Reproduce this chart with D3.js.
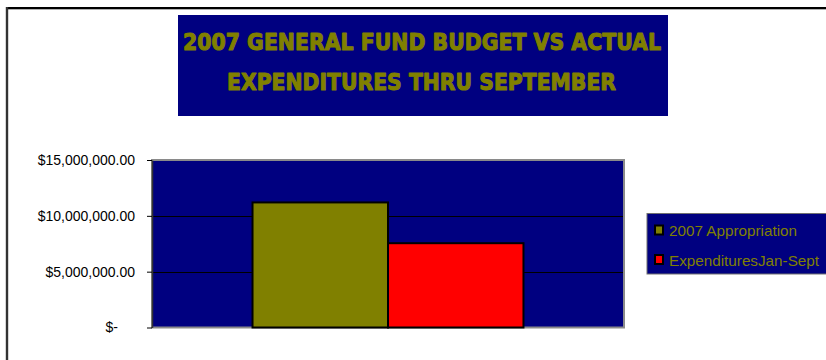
<!DOCTYPE html>
<html>
<head>
<meta charset="utf-8">
<script src="https://cdn.jsdelivr.net/npm/d3@7/dist/d3.min.js"></script>
<style>
  html, body { margin: 0; padding: 0; background: #ffffff; }
  svg { display: block; }
</style>
</head>
<body>
<script>
// Chart data
const categories = ["2007"];
const seriesNames = ["2007 Appropriation", "ExpendituresJan-Sept"];
const seriesValues = [11200000, 7550000];
const seriesColors = ["#808000", "#ff0000"];
const tickValues = [0, 5000000, 10000000, 15000000];
const tickLabels = ["$-", "$5,000,000.00", "$10,000,000.00", "$15,000,000.00"];
const titleLines = ["2007 GENERAL FUND BUDGET VS ACTUAL", "EXPENDITURES THRU SEPTEMBER"];

const W = 826, H = 360;
const plot = { left: 152, top: 160, right: 624, bottom: 327.5 };

const svg = d3.select("body").append("svg")
  .attr("width", W).attr("height", H);

// Frame lines along the top and left edges
svg.append("line").attr("x1", 7).attr("x2", W).attr("y1", 9.5).attr("y2", 9.5)
  .attr("stroke", "#b0b0b0").attr("stroke-width", 1);
svg.append("line").attr("x1", 6).attr("x2", W).attr("y1", 8).attr("y2", 8)
  .attr("stroke", "#000").attr("stroke-width", 2);
svg.append("line").attr("x1", 7).attr("x2", 7).attr("y1", 7).attr("y2", H)
  .attr("stroke", "#333").attr("stroke-width", 2.4);

// Title block
svg.append("rect").attr("x", 178).attr("y", 15).attr("width", 490).attr("height", 101)
  .attr("fill", "#000080");
const titleSpec = [
  { y: 49.5, x0: 183, x1: 661 },
  { y: 90, x0: 227, x1: 616 }
];
titleLines.forEach((t, i) => {
  svg.append("text")
    .attr("x", titleSpec[i].x0).attr("y", titleSpec[i].y)
    .attr("textLength", titleSpec[i].x1 - titleSpec[i].x0)
    .attr("lengthAdjust", "spacingAndGlyphs")
    .attr("font-family", "'DejaVu Sans', 'Liberation Sans', sans-serif")
    .attr("font-weight", "bold")
    .attr("font-size", 23)
    .attr("fill", "#808000")
    .attr("stroke", "#808000")
    .attr("stroke-width", 1.1)
    .attr("stroke-linejoin", "round")
    .text(t);
});

// Scales
const y = d3.scaleLinear().domain([0, 15000000]).range([plot.bottom, plot.top]);
const x0 = d3.scaleBand().domain(categories).range([plot.left, plot.right])
  .paddingInner(0).paddingOuter(0.371);
const x1 = d3.scaleBand().domain(seriesNames).range([0, x0.bandwidth()]).padding(0);

// Plot area background
svg.append("rect")
  .attr("x", plot.left).attr("y", plot.top)
  .attr("width", plot.right - plot.left).attr("height", plot.bottom - plot.top)
  .attr("fill", "#000080");

// Gridlines
svg.append("g").selectAll("line")
  .data(tickValues.filter(v => v > 0 && v < 15000000))
  .join("line")
  .attr("x1", plot.left).attr("x2", plot.right)
  .attr("y1", d => Math.round(y(d)) + 0.5).attr("y2", d => Math.round(y(d)) + 0.5)
  .attr("stroke", "#000").attr("stroke-width", 1);

// Plot area border
svg.append("rect")
  .attr("x", plot.left).attr("y", plot.top)
  .attr("width", plot.right - plot.left).attr("height", plot.bottom - plot.top)
  .attr("fill", "none").attr("stroke", "#8a8a8a").attr("stroke-width", 2);

// Bars
const group = svg.append("g").selectAll("g")
  .data(categories)
  .join("g")
  .attr("transform", d => `translate(${x0(d)},0)`);
group.selectAll("rect")
  .data(() => seriesNames.map((n, i) => ({ name: n, value: seriesValues[i], color: seriesColors[i] })))
  .join("rect")
  .attr("x", d => x1(d.name))
  .attr("y", d => y(d.value))
  .attr("width", x1.bandwidth())
  .attr("height", d => y(0) - y(d.value))
  .attr("fill", d => d.color)
  .attr("stroke", "#000")
  .attr("stroke-width", 2);

// Value axis
const yAxis = d3.axisLeft(y)
  .tickValues(tickValues)
  .tickFormat((d, i) => tickLabels[i])
  .tickSizeInner(5).tickSizeOuter(0).tickPadding(12);
const ax = svg.append("g").attr("transform", `translate(${plot.left},0)`).call(yAxis);
ax.attr("font-size", null).attr("font-family", null);
ax.select(".domain").attr("stroke", "#333").attr("stroke-width", 1.5);
ax.selectAll(".tick line").attr("stroke", "#000");
ax.selectAll(".tick text")
  .style("font-family", "'Liberation Sans', Arial, sans-serif")
  .style("font-size", "14px")
  .attr("fill", "#000")
  .attr("dx", d => d === 0 ? -17 : 0);

// Legend
const legend = svg.append("g");
legend.append("rect").attr("x", 647).attr("y", 213.5).attr("width", 190).attr("height", 60.5)
  .attr("fill", "#000080").attr("stroke", "#707070").attr("stroke-width", 1);
const legendRows = [
  { base: 235.5, sw: 225.5, width: 128 },
  { base: 266, sw: 255, width: 150 }
];
seriesNames.forEach((n, i) => {
  legend.append("rect")
    .attr("x", 655).attr("y", legendRows[i].sw)
    .attr("width", 8).attr("height", 9)
    .attr("fill", seriesColors[i]).attr("stroke", "#000").attr("stroke-width", 2);
  legend.append("text")
    .attr("x", 669).attr("y", legendRows[i].base)
    .attr("textLength", legendRows[i].width)
    .attr("lengthAdjust", "spacingAndGlyphs")
    .attr("font-family", "'Liberation Sans Narrow', 'Liberation Sans', Arial, sans-serif")
    .attr("font-size", 15)
    .attr("fill", "#808000")
    .text(n);
});
</script>
</body>
</html>
